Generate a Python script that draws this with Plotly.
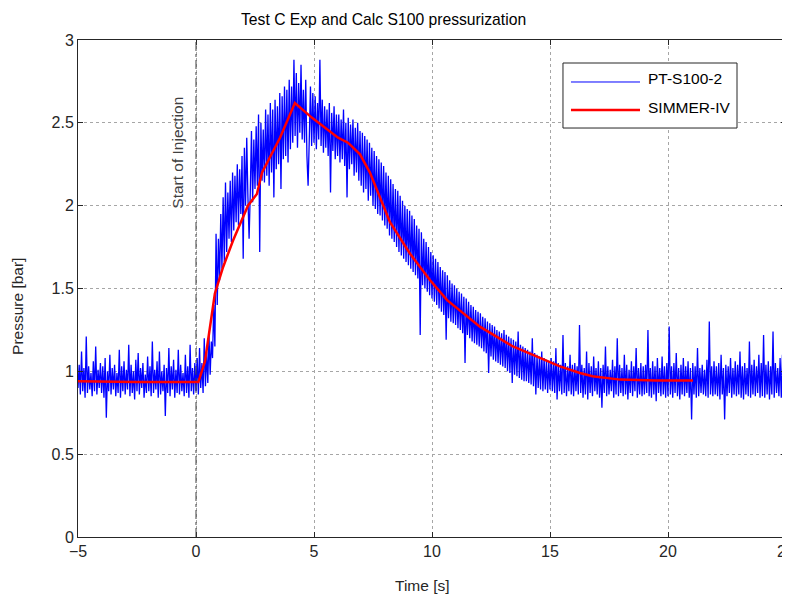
import plotly.graph_objects as go

# ---------------- data ----------------
title_text = "Test C Exp and Calc S100 pressurization"
x_label = "Time [s]"
y_label = "Pressure [bar]"
injection_time = 0.0
injection_label = "Start of Injection"

x_ticks = [-5, 0, 5, 10, 15, 20, 25]
y_ticks = [0, 0.5, 1, 1.5, 2, 2.5, 3]

exp_name = "PT-S100-2"
calc_name = "SIMMER-IV"

exp_t0 = -5.0
exp_dt = 0.05
exp_pressure = [
    0.90, 1.04, 0.86, 1.12, 0.88, 1.02, 0.84, 1.21, 0.87, 1.03, 0.89, 0.99, 0.85, 1.06, 0.88, 1.15, 0.86, 1.01, 0.90, 1.05,  # -5
    0.87, 1.03, 0.84, 1.08, 0.72, 1.00, 0.88, 1.10, 0.86, 1.02, 0.89, 1.04, 0.85, 0.99, 0.87, 1.13, 0.84, 1.03, 0.88, 1.06,  # -4
    0.86, 1.01, 0.89, 1.16, 0.85, 1.04, 0.87, 1.00, 0.83, 1.07, 0.88, 1.11, 0.86, 1.02, 0.90, 1.05, 0.84, 0.98, 0.87, 1.09,  # -3
    0.88, 1.03, 0.85, 1.18, 0.87, 1.01, 0.89, 1.06, 0.84, 1.12, 0.86, 1.00, 0.88, 1.04, 0.73, 1.02, 0.87, 1.14, 0.85, 1.03,  # -2
    0.89, 1.07, 0.84, 1.01, 0.87, 1.13, 0.86, 1.04, 0.88, 0.99, 0.85, 1.10, 0.87, 1.03, 0.84, 1.16, 0.88, 1.02, 0.86, 1.05,  # -1
    0.88, 1.08, 0.86, 1.14, 0.90, 1.05, 0.87, 1.20, 0.91, 1.12, 0.93, 1.22, 0.98, 1.18, 1.08, 1.40, 1.15, 1.83, 1.40, 1.80,  # 0
    1.55, 1.95, 1.62, 2.05, 1.66, 2.14, 1.72, 2.08, 1.80, 2.15, 1.78, 2.20, 1.85, 2.18, 1.90, 2.25, 1.88, 2.22, 1.95, 2.30,  # 1
    1.68, 2.35, 2.00, 2.41, 2.05, 1.80, 2.08, 2.45, 2.02, 2.40, 2.10, 2.48, 2.12, 2.55, 1.72, 2.50, 2.15, 2.46, 2.14, 2.58,  # 2
    2.18, 2.55, 2.12, 2.62, 2.20, 2.58, 2.05, 2.64, 2.22, 2.60, 2.25, 2.68, 2.10, 2.66, 2.28, 2.72, 2.30, 2.70, 2.26, 2.76,  # 3
    2.34, 2.72, 2.38, 2.88, 2.42, 2.80, 2.35, 2.74, 2.44, 2.85, 2.40, 2.70, 2.38, 2.76, 2.30, 2.12, 2.40, 2.72, 2.36, 2.68,  # 4
    2.38, 2.66, 2.34, 2.62, 2.40, 2.88, 2.36, 2.64, 2.32, 2.60, 2.35, 2.58, 2.30, 2.62, 2.08, 2.56, 2.33, 2.60, 2.28, 2.55,  # 5
    2.30, 2.55, 2.26, 2.52, 2.28, 2.58, 2.24, 2.50, 2.05, 2.53, 2.22, 2.49, 2.25, 2.52, 2.18, 2.47, 2.20, 2.50, 2.15, 2.45,  # 6
    2.12, 2.44, 2.08, 2.42, 2.10, 2.40, 2.03, 2.38, 2.06, 2.35, 2.00, 2.33, 1.98, 2.30, 1.95, 2.28, 1.94, 2.26, 1.91, 2.24,  # 7
    1.88, 2.20, 1.86, 2.18, 1.82, 2.16, 1.80, 2.13, 1.78, 2.10, 1.75, 2.09, 1.72, 2.06, 1.70, 2.03, 1.68, 2.00, 1.66, 1.98,  # 8
    1.64, 1.97, 1.62, 1.94, 1.60, 1.92, 1.58, 1.88, 1.56, 1.86, 1.22, 1.84, 1.52, 1.80, 1.50, 1.78, 1.48, 1.75, 1.46, 1.72,  # 9
    1.44, 1.70, 1.42, 1.68, 1.40, 1.66, 1.38, 1.63, 1.36, 1.61, 1.34, 1.60, 1.19, 1.58, 1.32, 1.55, 1.30, 1.53, 1.29, 1.52,  # 10
    1.28, 1.50, 1.26, 1.48, 1.25, 1.47, 1.23, 1.45, 1.05, 1.44, 1.22, 1.42, 1.20, 1.40, 1.18, 1.39, 1.17, 1.37, 1.16, 1.36,  # 11
    1.15, 1.35, 1.14, 1.33, 1.12, 1.32, 1.11, 1.30, 0.99, 1.29, 1.09, 1.28, 1.07, 1.27, 1.06, 1.25, 1.05, 1.24, 1.04, 1.23,  # 12
    1.03, 1.25, 1.02, 1.22, 1.00, 1.21, 0.99, 1.20, 0.93, 1.19, 0.98, 1.18, 0.97, 1.24, 0.96, 1.16, 0.95, 1.15, 0.94, 1.14,  # 13
    0.94, 1.13, 0.93, 1.12, 0.92, 1.20, 0.91, 1.11, 0.86, 1.10, 0.90, 1.09, 0.89, 1.12, 0.88, 1.08, 0.89, 1.07, 0.87, 1.06,  # 14
    0.89, 1.08, 0.88, 1.06, 0.87, 1.14, 0.83, 1.05, 0.88, 1.04, 0.86, 1.22, 0.87, 1.05, 0.85, 1.03, 0.88, 1.10, 0.86, 1.04,  # 15
    0.85, 1.05, 0.88, 1.03, 0.86, 1.28, 0.87, 1.04, 0.84, 1.02, 0.86, 1.12, 0.83, 1.05, 0.87, 1.03, 0.85, 1.09, 0.88, 1.02,  # 16
    0.86, 1.06, 0.84, 1.02, 0.78, 1.04, 0.87, 1.15, 0.85, 1.03, 0.86, 1.01, 0.88, 1.07, 0.84, 1.03, 0.86, 1.20, 0.85, 1.04,  # 17
    0.87, 1.02, 0.85, 1.10, 0.86, 1.04, 0.83, 1.01, 0.87, 1.06, 0.85, 1.03, 0.88, 1.14, 0.84, 1.02, 0.86, 1.05, 0.85, 1.03,  # 18
    0.86, 1.04, 0.87, 1.25, 0.85, 1.02, 0.84, 1.06, 0.86, 1.03, 0.82, 1.08, 0.87, 1.02, 0.85, 1.09, 0.86, 1.03, 0.84, 1.05,  # 19
    0.85, 1.27, 0.86, 1.03, 0.84, 1.05, 0.87, 1.11, 0.85, 1.02, 0.83, 1.04, 0.86, 1.08, 0.85, 1.03, 0.87, 1.06, 0.84, 1.02,  # 20
    0.71, 1.05, 0.86, 1.03, 0.84, 1.14, 0.85, 1.02, 0.87, 1.04, 0.86, 1.01, 0.85, 1.07, 0.84, 1.30, 0.86, 1.03, 0.85, 1.06,  # 21
    0.86, 1.03, 0.85, 1.05, 0.83, 1.10, 0.86, 1.02, 0.71, 1.04, 0.85, 1.03, 0.87, 1.08, 0.84, 1.02, 0.86, 1.06, 0.85, 1.04,  # 22
    0.86, 1.12, 0.84, 1.03, 0.83, 1.05, 0.86, 1.02, 0.85, 1.18, 0.84, 1.04, 0.86, 1.07, 0.85, 1.03, 0.87, 1.10, 0.84, 1.05,  # 23
    0.85, 1.22, 0.84, 1.04, 0.86, 1.06, 0.83, 1.03, 0.86, 1.24, 0.84, 1.05, 0.87, 1.02, 0.85, 1.08, 0.84, 1.10, 0.85, 1.35,  # 24
    0.90,                                                                                                                    # 25
]
exp_time = [round(exp_t0 + i * exp_dt, 3) for i in range(len(exp_pressure))]

# Calculation SIMMER-IV
calc_time = [-5.0, -2.5, 0.1, 0.38, 0.8, 1.15, 1.57, 2.2, 2.58, 2.8, 3.56, 4.19,
             4.92, 5.38, 6.02, 6.44, 6.95, 7.37, 7.8, 8.22, 9.07, 9.92, 10.64,
             12.03, 13.43, 14.87, 15.42, 16.27, 16.8, 17.97, 19.5, 21.06]
calc_pressure = [0.94, 0.935, 0.935, 1.06, 1.47, 1.63, 1.79, 2.0, 2.07, 2.2, 2.41, 2.62,
                 2.53, 2.48, 2.41, 2.38, 2.31, 2.20, 2.05, 1.90, 1.71, 1.55, 1.43,
                 1.27, 1.15, 1.06, 1.03, 0.99, 0.97, 0.95, 0.945, 0.945]

# ---------------- figure ----------------
FONT = "Arial, Liberation Sans, Helvetica, sans-serif"
TXT = "#262626"
BLUE = "#0000ff"
RED = "#ff0000"

fig = go.Figure()
fig.add_trace(go.Scatter(x=exp_time, y=exp_pressure, mode="lines", name=exp_name,
                         line=dict(color=BLUE, width=1.3), showlegend=False))
fig.add_trace(go.Scatter(x=calc_time, y=calc_pressure, mode="lines", name=calc_name,
                         line=dict(color=RED, width=2.5), showlegend=False))

axis_common = dict(showline=True, linecolor=TXT, linewidth=1, mirror="ticks",
                   ticks="inside", ticklen=5, tickcolor=TXT, automargin=False,
                   ticklabeloverflow="allow",
                   showgrid=True, gridcolor="#a6a6a6", griddash="dot", gridwidth=1,
                   zeroline=False, tickfont=dict(family=FONT, size=16, color=TXT))

fig.update_xaxes(range=[-5, 25], tickvals=x_ticks, **axis_common)
fig.update_yaxes(range=[0, 3], tickvals=y_ticks, **axis_common)

fig.add_shape(type="line", xref="x", yref="paper", x0=injection_time, x1=injection_time,
              y0=0, y1=1, line=dict(color="#404040", width=1, dash="dashdot"))
fig.add_annotation(x=injection_time - 0.76, y=2.32, xref="x", yref="y", text=injection_label,
                   textangle=-90, showarrow=False,
                   font=dict(family=FONT, size=15.5, color="#404040"))

fig.add_annotation(x=0.431, y=1.042, xref="paper", yref="paper", text=title_text,
                   showarrow=False, xanchor="center", yanchor="middle",
                   font=dict(family=FONT, size=15.7, color="#000000"))
fig.add_annotation(x=0.487, y=-0.0966, xref="paper", yref="paper", text=x_label,
                   showarrow=False, xanchor="center", yanchor="middle",
                   font=dict(family=FONT, size=15.5, color=TXT))
fig.add_annotation(x=-0.0847, y=0.463, xref="paper", yref="paper", text=y_label,
                   textangle=-90, showarrow=False, xanchor="center", yanchor="middle",
                   font=dict(family=FONT, size=15.5, color=TXT))

# legend box (drawn in paper coordinates, MATLAB style with long line samples)
fig.add_shape(type="rect", xref="paper", yref="paper", x0=0.6850, x1=0.9308,
              y0=0.8229, y1=0.9537, fillcolor="white", line=dict(color=TXT, width=1))
for name, color, width, ly, ty in [(exp_name, BLUE, 1, 0.9155, 0.9235),
                                   (calc_name, RED, 2.5, 0.8592, 0.8632)]:
    fig.add_shape(type="line", xref="paper", yref="paper", x0=0.6963, x1=0.7938,
                  y0=ly, y1=ly, line=dict(color=color, width=width))
    fig.add_annotation(x=0.8023, y=ty, xref="paper", yref="paper", text=name,
                       showarrow=False, xanchor="left", yanchor="middle",
                       font=dict(family=FONT, size=15.5, color="#000000"))

# the page body adds an 8 px margin, so the figure is sized/margined to compensate
fig.update_layout(
    width=782, height=586,
    margin=dict(l=70, r=4, t=32, b=57),
    paper_bgcolor="white", plot_bgcolor="white",
    showlegend=False,
)

fig.write_html("out.html")
